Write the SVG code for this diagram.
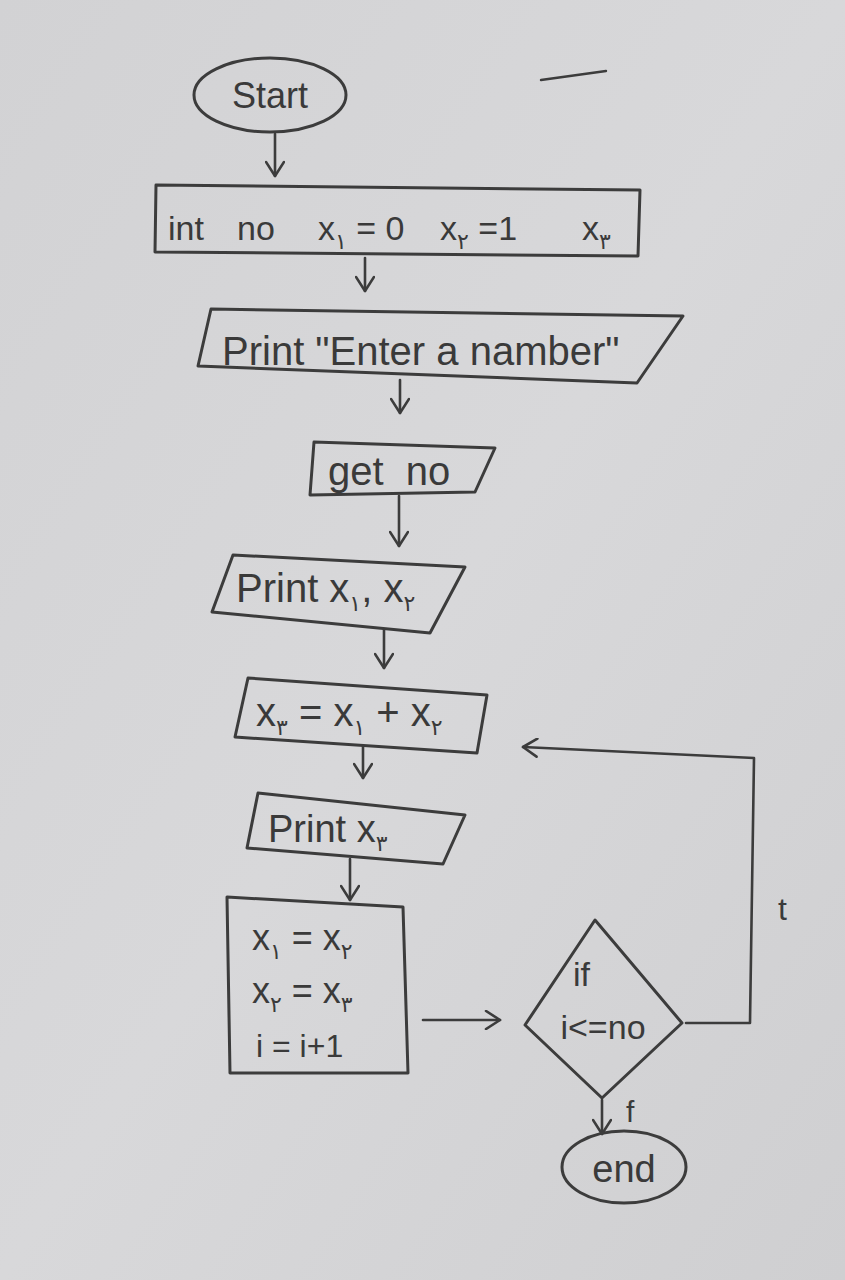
<svg xmlns="http://www.w3.org/2000/svg" width="845" height="1280" viewBox="0 0 845 1280">
<defs>
<linearGradient id="paper" x1="0" y1="0" x2="1" y2="1">
<stop offset="0" stop-color="#d2d2d4"/>
<stop offset="0.5" stop-color="#d8d8da"/>
<stop offset="1" stop-color="#cfcfd1"/>
</linearGradient>
<marker id="h" viewBox="0 0 20 20" refX="18" refY="10" markerWidth="20" markerHeight="20" markerUnits="userSpaceOnUse" orient="auto">
<path d="M4,1 L18,10 L4,19" fill="none" stroke="#3c3c3c" stroke-width="2.6" stroke-linecap="round" stroke-linejoin="round"/>
</marker>
</defs>
<style>
.shape{fill:none;stroke:#3c3c3c;stroke-width:3;stroke-linejoin:round;stroke-linecap:round}
.conn{fill:none;stroke:#3c3c3c;stroke-width:2.6;stroke-linecap:round;stroke-linejoin:round}
.t{font-family:"Liberation Sans","DejaVu Sans",sans-serif;fill:#3a3a3a}
.sub{font-family:"DejaVu Sans","Noto Sans",sans-serif;font-size:22px}
</style>
<rect width="845" height="1280" fill="url(#paper)"/>
<path d="M541,80 L606,71" stroke="#3c3c3c" stroke-width="2.4" stroke-linecap="round"/>

<g id="start">
<ellipse class="shape" cx="270" cy="95" rx="76" ry="37"/>
<text class="t" x="270" y="108" text-anchor="middle" font-size="36">Start</text>
</g>

<g id="init">
<path class="shape" d="M156,185 L640,190 L638,256 L155,252 Z"/>
<text class="t" x="168" y="240" font-size="34">int</text>
<text class="t" x="237" y="240" font-size="34">no</text>
<text class="t" x="318" y="240" font-size="34">x<tspan class="sub" dy="9">۱</tspan><tspan dy="-9"> = 0</tspan></text>
<text class="t" x="440" y="240" font-size="34">x<tspan class="sub" dy="9">۲</tspan><tspan dy="-9"> =1</tspan></text>
<text class="t" x="582" y="240" font-size="34">x<tspan class="sub" dy="9">۳</tspan></text>
</g>

<g id="prompt">
<path class="shape" d="M211,309 L683,316 L637,383 L198,366 Z"/>
<text class="t" x="222" y="365" font-size="40">Print "Enter a namber"</text>
</g>

<g id="input">
<path class="shape" d="M314,442 L495,448 L475,492 L310,495 Z"/>
<text class="t" x="328" y="485" font-size="40" xml:space="preserve">get  no</text>
</g>

<g id="print12">
<path class="shape" d="M233,555 L465,567 L430,633 L212,612 Z"/>
<text class="t" x="236" y="602" font-size="40">Print x<tspan class="sub" dy="9">۱</tspan><tspan dy="-9">, x</tspan><tspan class="sub" dy="9">۲</tspan></text>
</g>

<g id="sum">
<path class="shape" d="M248,678 L487,695 L477,753 L235,737 Z"/>
<text class="t" x="256" y="726" font-size="40" xml:space="preserve">x<tspan class="sub" dy="9">۳</tspan><tspan dy="-9"> = x</tspan><tspan class="sub" dy="9">۱</tspan><tspan dy="-9"> + x</tspan><tspan class="sub" dy="9">۲</tspan></text>
</g>

<g id="print3">
<path class="shape" d="M258,793 L465,815 L443,864 L247,848 Z"/>
<text class="t" x="268" y="842" font-size="38">Print x<tspan class="sub" dy="9">۳</tspan></text>
</g>

<g id="update">
<path class="shape" d="M227,897 L403,907 L408,1073 L230,1073 Z"/>
<text class="t" x="252" y="950" font-size="36" xml:space="preserve">x<tspan class="sub" dy="9">۱</tspan><tspan dy="-9"> = x</tspan><tspan class="sub" dy="9">۲</tspan></text>
<text class="t" x="252" y="1003" font-size="36" xml:space="preserve">x<tspan class="sub" dy="9">۲</tspan><tspan dy="-9"> = x</tspan><tspan class="sub" dy="9">۳</tspan></text>
<text class="t" x="256" y="1057" font-size="32">i = i+1</text>
</g>

<g id="decision">
<path class="shape" d="M595,920 L682,1023 L602,1098 L525,1025 Z"/>
<text class="t" x="573" y="986" font-size="34">if</text>
<text class="t" x="603" y="1039" font-size="34" text-anchor="middle">i&lt;=no</text>
</g>

<g id="end">
<ellipse class="shape" cx="624" cy="1167" rx="62" ry="36"/>
<text class="t" x="624" y="1182" text-anchor="middle" font-size="38">end</text>
</g>

<g id="connectors">
<path class="conn" d="M275,134 L275,176" marker-end="url(#h)"/>
<path class="conn" d="M365,258 L365,291" marker-end="url(#h)"/>
<path class="conn" d="M400,380 L400,413" marker-end="url(#h)"/>
<path class="conn" d="M399,496 L399,546" marker-end="url(#h)"/>
<path class="conn" d="M384,630 L384,668" marker-end="url(#h)"/>
<path class="conn" d="M363,746 L363,778" marker-end="url(#h)"/>
<path class="conn" d="M350,859 L350,900" marker-end="url(#h)"/>
<path class="conn" d="M423,1020 L500,1020" marker-end="url(#h)"/>
<path class="conn" d="M686,1023 L750,1023 L754,758 L523,747" marker-end="url(#h)"/>
<text class="t" x="778" y="920" font-size="32">t</text>
<path class="conn" d="M602,1100 L602,1134" marker-end="url(#h)"/>
<text class="t" x="626" y="1122" font-size="30">f</text>
</g>
</svg>
